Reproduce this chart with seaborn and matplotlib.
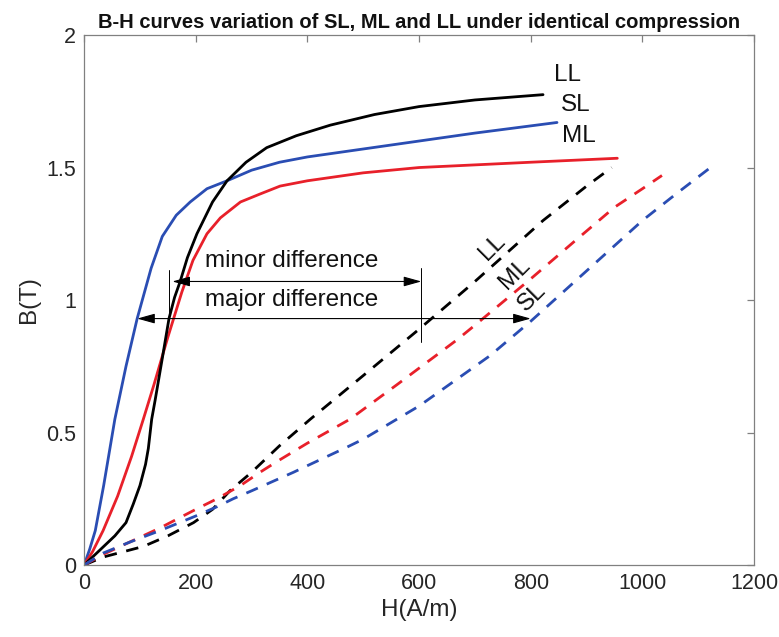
import matplotlib
matplotlib.use("Agg")
import matplotlib.pyplot as plt
import seaborn as sns
import pandas as pd

# ---- data ----
sl_solid_H = [0, 10, 20, 35, 55, 75, 95, 120, 140, 165, 190, 220, 256, 300, 350, 400, 500, 600, 700, 847]
sl_solid_B = [0, 0.06, 0.13, 0.30, 0.55, 0.75, 0.93, 1.12, 1.24, 1.32, 1.37, 1.42, 1.45, 1.49, 1.52, 1.54, 1.57, 1.60, 1.63, 1.67]

ml_solid_H = [0, 15, 34, 60, 85, 106, 125, 150, 175, 195, 220, 244, 280, 315, 351, 400, 500, 600, 700, 800, 955]
ml_solid_B = [0, 0.05, 0.13, 0.26, 0.41, 0.55, 0.68, 0.86, 1.03, 1.15, 1.25, 1.31, 1.37, 1.40, 1.43, 1.45, 1.48, 1.50, 1.51, 1.52, 1.535]

ll_solid_H = [0, 20, 55, 75, 88, 100, 110, 115, 121, 127, 140, 152, 162, 172, 185, 202, 230, 256, 290, 327, 380, 441, 520, 600, 700, 822]
ll_solid_B = [0, 0.04, 0.11, 0.16, 0.23, 0.30, 0.38, 0.44, 0.55, 0.62, 0.78, 0.93, 1.01, 1.07, 1.16, 1.25, 1.37, 1.45, 1.52, 1.575, 1.62, 1.66, 1.70, 1.73, 1.755, 1.775]

sl_dash_H = [0, 34, 80, 136, 200, 238, 267, 300, 375, 400, 471, 500, 600, 727, 800, 900, 1000, 1060, 1125]
sl_dash_B = [0, 0.045, 0.085, 0.13, 0.185, 0.22, 0.25, 0.28, 0.35, 0.375, 0.445, 0.475, 0.60, 0.79, 0.92, 1.11, 1.30, 1.40, 1.505]

ml_dash_H = [0, 34, 80, 136, 200, 238, 280, 315, 345, 400, 476, 560, 668, 700, 800, 883, 950, 1000, 1035]
ml_dash_B = [0, 0.04, 0.085, 0.14, 0.21, 0.25, 0.30, 0.35, 0.39, 0.46, 0.55, 0.68, 0.85, 0.905, 1.08, 1.23, 1.35, 1.42, 1.47]

ll_dash_H = [0, 34, 106, 150, 196, 230, 261, 300, 350, 405, 500, 600, 700, 822, 900, 945]
ll_dash_B = [0, 0.03, 0.07, 0.11, 0.16, 0.21, 0.28, 0.35, 0.45, 0.55, 0.715, 0.89, 1.07, 1.30, 1.43, 1.50]

x_ticks = [0, 200, 400, 600, 800, 1000, 1200]
y_ticks = [0, 0.5, 1, 1.5, 2]
y_tick_labels = ["0", "0.5", "1", "1.5", "2"]

BLUE = "#2a4db3"
RED = "#e8202a"
BLACK = "#000000"

sns.set_theme(style="white")
plt.rcParams["font.family"] = ["Liberation Sans", "DejaVu Sans"]

fig = plt.figure(figsize=(7.79, 6.37), dpi=100)
ax = fig.add_axes([0.108, 0.113, 0.860, 0.832])

lw = 2.0
dash = (0, (4.5, 3.5))
curves = [
    (sl_solid_H, sl_solid_B, BLUE, "-"),
    (ml_solid_H, ml_solid_B, RED, "-"),
    (ll_solid_H, ll_solid_B, BLACK, "-"),
    (ll_dash_H, ll_dash_B, BLACK, dash),
    (ml_dash_H, ml_dash_B, RED, dash),
    (sl_dash_H, sl_dash_B, BLUE, dash),
]
for H, B, c, ls in curves:
    df = pd.DataFrame({"H": H, "B": B})
    sns.lineplot(data=df, x="H", y="B", color=c, linewidth=lw, linestyle=ls,
                 ax=ax, estimator=None, sort=False)

ax.set_xlim(0, 1200)
ax.set_ylim(0, 2)
ax.set_xticks(x_ticks)
ax.set_xticklabels([str(t) for t in x_ticks])
ax.set_yticks(y_ticks)
ax.set_yticklabels(y_tick_labels)

spine_c = "#808080"
for s in ax.spines.values():
    s.set_visible(True)
    s.set_color(spine_c)
    s.set_linewidth(0.9)
ax.tick_params(direction="in", length=5, width=0.9, color=spine_c,
               top=True, right=True, labelsize=15.5, labelcolor="#262626", pad=6)
ax.set_xlabel("H(A/m)", fontsize=17.5, color="#262626", labelpad=3)
ax.set_ylabel("B(T)", fontsize=17.5, color="#262626", labelpad=4)
ax.set_title("B-H curves variation of SL, ML and LL under identical compression",
             fontsize=14.5, fontweight="bold", color="#111111", pad=5)

# curve end labels
lab_fs = 17.5
ax.text(865, 1.85, "LL", fontsize=lab_fs, ha="center", va="center", color="#111111")
ax.text(881, 1.736, "SL", fontsize=lab_fs, ha="center", va="center", color="#111111")
ax.text(887, 1.62, "ML", fontsize=lab_fs, ha="center", va="center", color="#111111")
ax.text(731, 1.20, "LL", fontsize=lab_fs, ha="center", va="center", rotation=45, color="#111111")
ax.text(772, 1.10, "ML", fontsize=lab_fs, ha="center", va="center", rotation=45, color="#111111")
ax.text(802, 1.01, "SL", fontsize=lab_fs, ha="center", va="center", rotation=45, color="#111111")

# difference annotations
ax.text(217, 1.147, "minor difference", fontsize=lab_fs, ha="left", va="center", color="#111111")
ax.text(217, 1.0, "major difference", fontsize=lab_fs, ha="left", va="center", color="#111111")
astyle = dict(arrowstyle="<|-|>,head_length=0.9,head_width=0.25", color="black",
              lw=0.8, shrinkA=0, shrinkB=0)
ax.annotate("", xy=(158, 1.07), xytext=(604, 1.07), arrowprops=astyle)
ax.annotate("", xy=(95, 0.93), xytext=(800, 0.93), arrowprops=astyle)
ax.plot([152, 152], [0.93, 1.113], color="black", lw=0.7)
ax.plot([604, 604], [0.84, 1.12], color="black", lw=0.7)

fig.savefig("out.png", dpi=100)
